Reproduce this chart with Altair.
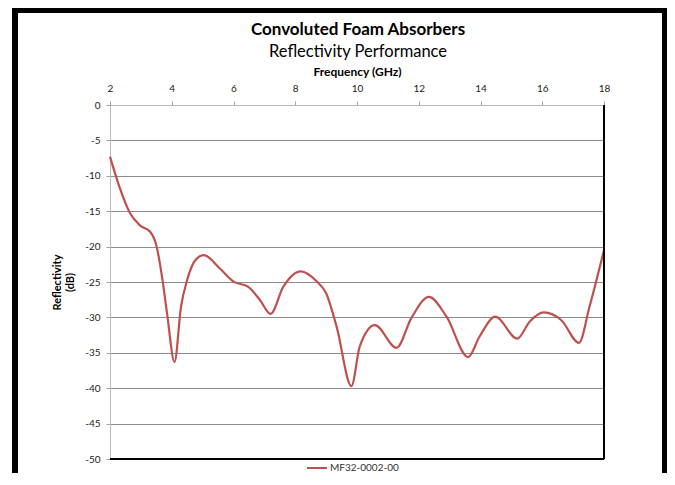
import altair as alt
import pandas as pd

freq = [2.0, 2.3, 2.65, 2.97, 3.3, 3.5, 3.7, 3.85, 4.09, 4.3, 4.5, 4.75, 5.04, 5.56,
        5.99, 6.48, 6.85, 7.2, 7.61, 8.18, 8.69, 9.0, 9.34, 9.82, 10.09, 10.58, 11.28,
        11.76, 12.33, 12.9, 13.6, 13.97, 14.48, 15.19, 15.59, 16.05, 16.62, 17.19, 17.53, 18.0]
refl = [-7.3, -11.5, -15.3, -17.0, -17.9, -19.8, -24.7, -29.5, -36.3, -28.5, -24.7, -22.0, -21.2, -23.1,
        -24.9, -25.7, -27.5, -29.5, -25.7, -23.5, -24.9, -26.6, -31.3, -39.7, -34.1, -31.1, -34.3,
        -30.1, -27.1, -29.9, -35.6, -32.7, -29.9, -33.0, -30.6, -29.3, -30.4, -33.6, -28.5, -20.5]
series_name = "MF32-0002-00"
title_text = "Convoluted Foam Absorbers"
subtitle_text = "Reflectivity Performance"
x_ticks = [2, 4, 6, 8, 10, 12, 14, 16, 18]
y_ticks = [0, -5, -10, -15, -20, -25, -30, -35, -40, -45, -50]

df = pd.DataFrame({"f": freq, "r": refl, "series": series_name})
tdf = pd.DataFrame({"t": [title_text]})
sdf = pd.DataFrame({"t": [subtitle_text]})

FONT = "Lato"
W, H = 494, 354

line = alt.Chart(df).mark_line(interpolate="monotone", strokeWidth=2.2).encode(
    x=alt.X("f:Q", scale=alt.Scale(domain=[2, 18], nice=False),
            axis=alt.Axis(orient="top", values=x_ticks, title="Frequency (GHz)", grid=False,
                          labelExpr="datum.value + ''", labelFlush=False,
                          titleFont=FONT, titleFontSize=12, titleFontWeight="bold", titleColor="#000",
                          labelFont=FONT, labelFontSize=10, labelColor="#222", labelPadding=8,
                          titlePadding=5, tickSize=4, tickColor="#a0a0a0", domainColor="#b8b8b8")),
    y=alt.Y("r:Q", scale=alt.Scale(domain=[-50, 0], nice=False),
            axis=alt.Axis(values=y_ticks, title=["Reflectivity", "(dB)"], grid=True,
                          labelExpr="datum.value + ''", labelFlush=False,
                          gridColor="#8c8c8c", gridWidth=1,
                          titleFont=FONT, titleFontSize=11, titleFontWeight="bold", titleColor="#000",
                          titleLineHeight=13,
                          labelFont=FONT, labelFontSize=10, labelColor="#222", labelPadding=6,
                          titlePadding=9, tickSize=4, tickColor="#a0a0a0", domainColor="#b8b8b8")),
    color=alt.Color("series:N", scale=alt.Scale(range=["#C0504D"]),
                    legend=alt.Legend(orient="none", legendX=196, legendY=352, title=None,
                                      symbolType="stroke", symbolSize=400, symbolStrokeWidth=2,
                                      labelFont=FONT, labelFontSize=10, labelColor="#333",
                                      symbolOffset=0, labelOffset=2)),
)

title_mark = alt.Chart(tdf).mark_text(font=FONT, fontSize=17, fontWeight="bold", color="#000",
                                      baseline="middle", align="center").encode(
    text="t:N", x=alt.value(248), y=alt.value(-75))
subtitle_mark = alt.Chart(sdf).mark_text(font=FONT, fontSize=16.5, color="#000",
                                         baseline="middle", align="center").encode(
    text="t:N", x=alt.value(248), y=alt.value(-53))

right_edge = alt.Chart(df).mark_rule(color="#000", strokeWidth=1.2).encode(
    x=alt.value(W), y=alt.value(0), y2=alt.value(H))
bottom_edge = alt.Chart(df).mark_rule(color="#000", strokeWidth=1.2).encode(
    y=alt.value(H), x=alt.value(0), x2=alt.value(W))

frame_left = alt.Chart(df).mark_rule(color="#000", strokeWidth=4.5).encode(
    x=alt.value(-95), y=alt.value(-97), y2=alt.value(380))
frame_right = alt.Chart(df).mark_rule(color="#000", strokeWidth=4.5).encode(
    x=alt.value(554.5), y=alt.value(-97), y2=alt.value(380))
frame_top = alt.Chart(df).mark_rule(color="#000", strokeWidth=4.5).encode(
    y=alt.value(-95), x=alt.value(-97), x2=alt.value(557))

chart = alt.layer(line, title_mark, subtitle_mark, right_edge, bottom_edge,
                  frame_left, frame_right, frame_top).properties(
    width=W, height=H,
    padding={"left": 102, "top": 97, "right": 63, "bottom": 14},
    autosize=alt.AutoSizeParams(type="none"),
).configure_view(stroke=None).configure(background="#ffffff")

chart.save("out.html", embed_options={"renderer": "svg", "actions": False})
